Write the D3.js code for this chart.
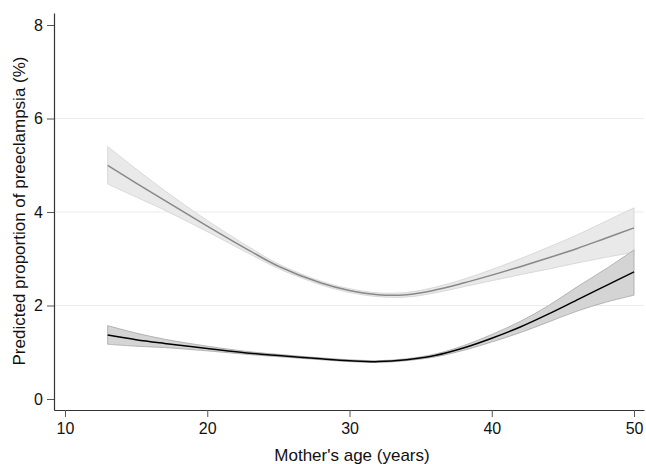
<!DOCTYPE html>
<html>
<head>
<meta charset="utf-8">
<script src="https://cdn.jsdelivr.net/npm/d3@7"></script>
<style>
  html, body { margin: 0; padding: 0; background: #fff; }
  svg { display: block; font-family: "Liberation Sans", Arial, sans-serif; }
</style>
</head>
<body>
<svg id="chart" width="646" height="464"></svg>
<script>
// ---- data ----
const ages = [13, 15, 17, 20, 23, 25, 28, 30, 32, 34, 36, 38, 40, 42, 44, 46, 48, 50];

const groupA     = [5.00, 4.62, 4.25, 3.70, 3.17, 2.84, 2.48, 2.32, 2.23, 2.23, 2.33, 2.48, 2.65, 2.83, 3.02, 3.22, 3.44, 3.66];
const groupALow  = [4.60, 4.32, 4.04, 3.58, 3.10, 2.79, 2.44, 2.28, 2.19, 2.18, 2.27, 2.40, 2.53, 2.66, 2.78, 2.91, 3.03, 3.14];
const groupAHigh = [5.40, 4.92, 4.46, 3.82, 3.24, 2.89, 2.52, 2.36, 2.27, 2.28, 2.39, 2.56, 2.77, 3.00, 3.25, 3.51, 3.80, 4.09];

const groupB     = [1.37, 1.27, 1.19, 1.08, 0.98, 0.93, 0.86, 0.82, 0.80, 0.84, 0.93, 1.09, 1.30, 1.54, 1.82, 2.12, 2.42, 2.72];
const groupBLow  = [1.17, 1.13, 1.10, 1.03, 0.95, 0.905, 0.84, 0.80, 0.78, 0.82, 0.90, 1.04, 1.22, 1.42, 1.65, 1.88, 2.07, 2.22];
const groupBHigh = [1.57, 1.41, 1.28, 1.13, 1.01, 0.955, 0.88, 0.84, 0.82, 0.86, 0.96, 1.14, 1.38, 1.66, 2.00, 2.40, 2.78, 3.19];

const xTicks = [10, 20, 30, 40, 50];
const yTicks = [0, 2, 4, 6, 8];
const gridValues = [2, 4, 6];

const xTitle = "Mother's age (years)";
const yTitle = "Predicted proportion of preeclampsia (%)";

// ---- drawing ----
const svg = d3.select("#chart");
const x = d3.scaleLinear().domain([9.227, 50.70]).range([54, 644]);
const y = d3.scaleLinear().domain([-0.235, 8.257]).range([410, 13]);

// gridlines
svg.append("g").selectAll("line").data(gridValues).join("line")
  .attr("x1", x.range()[0]).attr("x2", x.range()[1])
  .attr("y1", d => y(d)).attr("y2", d => y(d))
  .attr("stroke", "#ebebeb").attr("stroke-width", 1);

const idx = d3.range(ages.length);
const curve = d3.curveCatmullRom.alpha(0.5);
const area = (lo, hi) => d3.area()
  .x(i => x(ages[i])).y0(i => y(lo[i])).y1(i => y(hi[i]))
  .curve(curve);
const line = (v) => d3.line().x(i => x(ages[i])).y(i => y(v[i])).curve(curve);

// band A (light)
svg.append("path").datum(idx).attr("d", area(groupALow, groupAHigh))
  .attr("fill", "#e9e9e9").attr("stroke", "#d2d2d2").attr("stroke-width", 0.8);
// band B (darker)
svg.append("path").datum(idx).attr("d", area(groupBLow, groupBHigh))
  .attr("fill", "#d4d4d4").attr("stroke", "#a6a6a6").attr("stroke-width", 0.8);

// lines
svg.append("path").datum(idx).attr("d", line(groupA))
  .attr("fill", "none").attr("stroke", "#888").attr("stroke-width", 1.5);
svg.append("path").datum(idx).attr("d", line(groupB))
  .attr("fill", "none").attr("stroke", "#000").attr("stroke-width", 1.5);

// axes
const xAxis = svg.append("g").attr("transform", "translate(0,410)")
  .call(d3.axisBottom(x).tickValues(xTicks).tickSize(7).tickSizeOuter(0).tickPadding(6));
const yAxis = svg.append("g").attr("transform", "translate(54,0)")
  .call(d3.axisLeft(y).tickValues(yTicks).tickSize(7).tickSizeOuter(0).tickPadding(4));

[xAxis, yAxis].forEach(g => {
  g.select(".domain").attr("stroke", "#333").attr("stroke-width", 1.2);
  g.selectAll(".tick line").attr("stroke", "#555");
  g.selectAll(".tick text").attr("fill", "#111").attr("font-size", 16)
    .attr("font-family", "'Liberation Sans', Arial, sans-serif");
});

svg.append("text").attr("x", 352).attr("y", 461)
  .attr("text-anchor", "middle").attr("font-size", 17).attr("fill", "#111")
  .text(xTitle);
svg.append("text").attr("transform", "translate(25,211) rotate(-90)")
  .attr("text-anchor", "middle").attr("font-size", 17).attr("fill", "#111")
  .text(yTitle);
</script>
</body>
</html>
